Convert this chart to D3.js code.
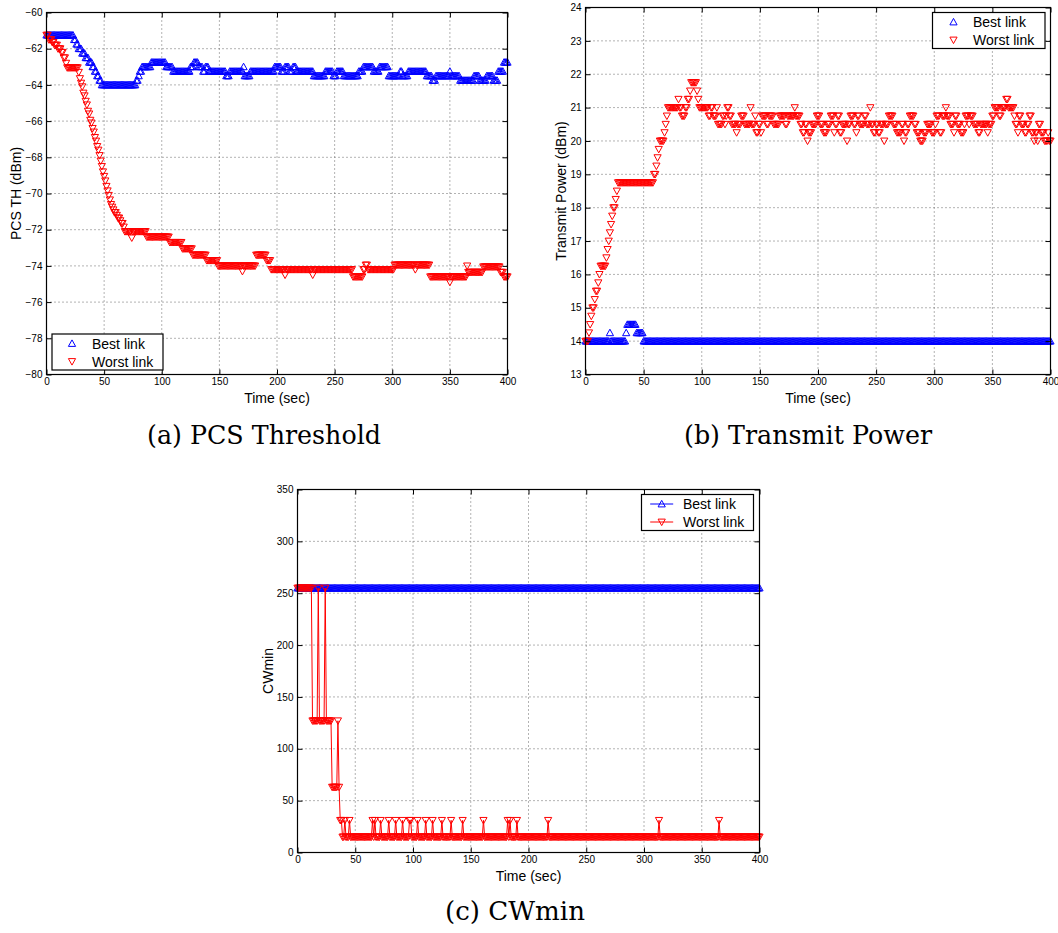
<!DOCTYPE html>
<html>
<head>
<meta charset="utf-8">
<script src="https://cdn.jsdelivr.net/npm/d3@7"></script>
<style>
  html, body { margin: 0; padding: 0; background: #fff; }
  svg { display: block; }
  .tick text { font-family: "Liberation Sans", Arial, sans-serif; font-size: 10px; fill: #000; }
  .axis-title { font-family: "Liberation Sans", Arial, sans-serif; font-size: 14px; fill: #000; }
  .legend-text { font-family: "Liberation Sans", Arial, sans-serif; font-size: 14px; fill: #000; }
  .caption { font-family: "DejaVu Serif", "Liberation Serif", serif; font-size: 26px; fill: #000; }
  .grid line { stroke: #666; stroke-width: 1; stroke-dasharray: 1 3; }
</style>
</head>
<body>
<svg id="fig" width="1058" height="933"></svg>
<script>
// ---------- data ----------
const timeTicks = [0, 50, 100, 150, 200, 250, 300, 350, 400];
const pcsTicks = [-80, -78, -76, -74, -72, -70, -68, -66, -64, -62, -60];
const powerTicks = [13, 14, 15, 16, 17, 18, 19, 20, 21, 22, 23, 24];
const cwTicks = [0, 50, 100, 150, 200, 250, 300, 350];
const seriesNames = ["Best link", "Worst link"];
const captions = ["(a) PCS Threshold", "(b) Transmit Power", "(c) CWmin"];

// Each series is a list of [second, value] change points; a value holds until the next entry.
const pcsBest = [[0,-61.25],[24,-61.5],[26,-61.75],[28,-62],[31,-62.25],[34,-62.5],[37,-62.75],[40,-63],[42,-63.25],[44,-63.5],[46,-63.75],[48,-64],[78,-63.75],[80,-63.5],[81,-63.25],[83,-63],[91,-62.75],[104,-63],[110,-63.25],[125,-63],[128,-62.75],[132,-63],[136,-63.25],[138,-63],[141,-63.25],[156,-63.5],[159,-63.25],[171,-63],[172,-63.5],[177,-63.25],[198,-63],[204,-63.25],[207,-63],[211,-63.25],[214,-63],[217,-63.25],[232,-63.5],[242,-63.25],[249,-63.5],[252,-63.25],[258,-63.5],[271,-63.25],[275,-63],[284,-63.25],[289,-63],[297,-63.5],[307,-63.25],[309,-63.5],[314,-63.25],[330,-63.5],[335,-63.75],[338,-63.5],[350,-63.25],[351,-63.5],[359,-63.75],[371,-63.5],[376,-63.75],[382,-63.5],[388,-63.75],[392,-63.25],[397,-62.75]];
const pcsWorst = [[0,-61.25],[2,-61.5],[5,-61.65],[7,-61.8],[10,-62],[13,-62.2],[15,-62.5],[17,-62.8],[18,-63.05],[28,-63.3],[29,-63.65],[30,-63.9],[31,-64.1],[32,-64.45],[33,-64.6],[34,-64.9],[35,-65.1],[36,-65.45],[37,-65.6],[38,-65.95],[39,-66.1],[40,-66.4],[41,-66.6],[42,-66.9],[43,-67.1],[44,-67.4],[45,-67.6],[46,-67.9],[47,-68.2],[48,-68.5],[49,-68.8],[50,-69.05],[51,-69.3],[52,-69.6],[53,-69.85],[54,-70.1],[55,-70.35],[56,-70.6],[57,-70.75],[58,-70.9],[59,-71.05],[61,-71.2],[62,-71.35],[64,-71.5],[65,-71.65],[67,-71.85],[68,-72.1],[74,-72.45],[75,-72.1],[87,-72.4],[107,-72.7],[118,-73.05],[127,-73.4],[139,-73.7],[149,-74],[170,-74.3],[171,-74],[182,-73.4],[191,-73.7],[195,-74.2],[207,-74.5],[208,-74.2],[231,-74.5],[232,-74.2],[266,-74.6],[275,-74.2],[277,-73.95],[279,-74.2],[302,-73.95],[320,-74.2],[321,-73.95],[333,-74.6],[350,-74.9],[351,-74.6],[365,-74],[366,-74.35],[379,-74.05],[394,-74.35],[397,-74.6]];

const powerBest = [[0,14],[21,14.25],[22,14],[35,14.25],[36,14.5],[44,14.25],[50,14]];
const powerWorst = [[0,14],[3,14.25],[4,14.5],[5,14.75],[6,15],[8,15.25],[9,15.5],[11,15.75],[12,16],[13,16.25],[18,16.5],[19,16.75],[20,17],[21,17.25],[22,17.5],[23,17.75],[24,18],[26,18.25],[27,18.5],[28,18.75],[59,19],[61,19.25],[62,19.5],[63,19.75],[64,20],[68,20.25],[69,20.5],[70,20.75],[71,21],[80,21.25],[81,21],[83,20.75],[86,21],[88,21.25],[90,21.5],[91,21.75],[96,21.5],[97,21.25],[98,21],[106,20.75],[108,21],[110,20.75],[113,21],[114,20.5],[118,20.75],[120,20.5],[121,20.75],[122,21],[124,20.75],[126,20.5],[130,20.25],[131,20.5],[134,20.75],[137,20.5],[142,21],[143,20.5],[146,20.75],[147,20.25],[149,20.5],[151,20.25],[152,20.75],[156,20.5],[158,20.75],[162,20.5],[167,20.75],[172,20.5],[174,20.75],[180,21],[181,20.75],[185,20.5],[187,20.25],[189,20.5],[191,20],[192,20.25],[195,20.5],[199,20.75],[202,20.5],[205,20.25],[208,20.5],[211,20.75],[214,20.25],[215,20.5],[217,20.75],[219,20.25],[221,20.5],[225,20],[226,20.5],[228,20.75],[231,20.5],[233,20.25],[234,20.75],[236,20.5],[240,20.75],[242,20.5],[245,21],[246,20.5],[248,20.25],[250,20.5],[252,20.25],[254,20.5],[257,20],[258,20.5],[261,20.75],[265,20.5],[268,20.25],[272,20.5],[274,20],[275,20.25],[277,20.5],[279,20.75],[283,20.5],[285,20.25],[288,20],[291,20.25],[294,20.5],[298,20.25],[301,20.5],[302,20.75],[305,20.25],[307,20.75],[310,21],[311,20.75],[314,20.5],[317,20.25],[318,20.75],[320,20.5],[323,20.25],[326,20.5],[327,20.75],[330,20.5],[331,20.75],[334,20.5],[338,20.25],[340,20.5],[346,20.25],[347,20.5],[350,20.75],[352,21],[356,20.75],[358,21],[362,21.25],[364,21],[369,20.75],[370,20.5],[372,20.25],[373,20.75],[375,20.5],[378,20.25],[380,20.5],[382,20.75],[384,20.25],[386,20],[387,20.25],[389,20],[390,20.5],[392,20.25],[395,20],[398,20.25],[399,20]];

const cwBest = [[0,255]];
const cwWorst = [[0,255],[13,127],[18,255],[19,127],[24,255],[25,127],[30,63],[35,127],[36,63],[37,31],[39,15],[41,31],[42,15],[45,31],[46,15],[65,31],[66,15],[67,31],[68,15],[72,31],[73,15],[79,31],[80,15],[85,31],[86,15],[91,31],[92,15],[97,31],[99,15],[104,31],[105,15],[111,31],[112,15],[117,31],[118,15],[125,31],[126,15],[133,31],[134,15],[143,31],[144,15],[161,31],[162,15],[182,31],[183,15],[184,31],[185,15],[190,31],[191,15],[217,31],[218,15],[313,31],[314,15],[365,31],[366,15]];

// one sample per second over the run
const sampleTimes = d3.range(0, 401);
function holdSteps(steps) {
  let i = 0;
  return sampleTimes.map(t => {
    while (i + 1 < steps.length && steps[i + 1][0] <= t) i++;
    return { t, v: steps[i][1] };
  });
}

// ---------- drawing ----------
const svg = d3.select("#fig");
svg.append("rect").attr("width", 1058).attr("height", 933).attr("fill", "#fff");

const TRI_UP = "M0,-3.6L3.6,2.9L-3.6,2.9Z";
const TRI_DOWN = "M0,3.6L3.6,-2.9L-3.6,-2.9Z";
const BLUE = "#0000ff", RED = "#ff0000";

function drawPanel(cfg) {
  const g = svg.append("g");
  const x = d3.scaleLinear().domain([0, 400]).range([cfg.left, cfg.right]);
  const y = d3.scaleLinear().domain([cfg.yTicks[0], cfg.yTicks[cfg.yTicks.length - 1]]).range([cfg.bottom, cfg.top]);

  // dotted grid at the interior ticks
  const grid = g.append("g").attr("class", "grid");
  grid.selectAll("line.vx").data(timeTicks.slice(1, -1)).join("line").attr("class", "vx")
    .attr("x1", d => x(d)).attr("x2", d => x(d)).attr("y1", cfg.top).attr("y2", cfg.bottom);
  grid.selectAll("line.hy").data(cfg.yTicks.slice(1, -1)).join("line").attr("class", "hy")
    .attr("x1", cfg.left).attr("x2", cfg.right).attr("y1", d => y(d)).attr("y2", d => y(d));

  // series (best first, worst on top)
  cfg.series.forEach((s, k) => {
    const pts = holdSteps(s.steps);
    const color = k === 0 ? BLUE : RED;
    const shape = k === 0 ? TRI_UP : TRI_DOWN;
    if (cfg.withLines) {
      g.append("path").datum(pts)
        .attr("d", d3.line().x(d => x(d.t)).y(d => y(d.v)))
        .attr("fill", "none").attr("stroke", color).attr("stroke-width", 1);
    }
    g.append("g").selectAll("path").data(pts).join("path")
      .attr("transform", d => `translate(${x(d.t)},${y(d.v)})`)
      .attr("d", shape)
      .attr("fill", "none").attr("stroke", color).attr("stroke-width", 1);
  });

  // axes: labelled bottom/left, mirrored ticks on top/right, all pointing inward
  const fmt = d3.format("d");
  const bottom = g.append("g").attr("transform", `translate(0,${cfg.bottom})`)
    .call(d3.axisBottom(x).tickValues(timeTicks).tickFormat(fmt).tickSizeInner(-5).tickSizeOuter(0).tickPadding(3.5));
  const left = g.append("g").attr("transform", `translate(${cfg.left},0)`)
    .call(d3.axisLeft(y).tickValues(cfg.yTicks).tickFormat(fmt).tickSizeInner(-5).tickSizeOuter(0).tickPadding(4));
  const top = g.append("g").attr("transform", `translate(0,${cfg.top})`)
    .call(d3.axisTop(x).tickValues(timeTicks).tickFormat("").tickSizeInner(-5).tickSizeOuter(0));
  const right = g.append("g").attr("transform", `translate(${cfg.right},0)`)
    .call(d3.axisRight(y).tickValues(cfg.yTicks).tickFormat("").tickSizeInner(-5).tickSizeOuter(0));
  [bottom, left, top, right].forEach(a => {
    a.attr("font-family", null).attr("font-size", null);
    a.select(".domain").remove();
    a.selectAll(".tick line").attr("stroke", "#000");
  });

  // frame
  g.append("rect").attr("x", cfg.left).attr("y", cfg.top)
    .attr("width", cfg.right - cfg.left).attr("height", cfg.bottom - cfg.top)
    .attr("fill", "none").attr("stroke", "#000").attr("stroke-width", 1.2);

  // axis titles
  g.append("text").attr("class", "axis-title").attr("text-anchor", "middle")
    .attr("x", (cfg.left + cfg.right) / 2).attr("y", cfg.bottom + 28.5).text("Time (sec)");
  g.append("text").attr("class", "axis-title").attr("text-anchor", "middle")
    .attr("transform", `translate(${cfg.yTitleX},${(cfg.top + cfg.bottom) / 2}) rotate(-90)`)
    .text(cfg.yTitle);

  // legend
  const L = cfg.legend;
  const lg = g.append("g");
  lg.append("rect").attr("x", L.x).attr("y", L.y).attr("width", L.w).attr("height", L.h)
    .attr("fill", "#fff").attr("stroke", "#000").attr("stroke-width", 1.2);
  seriesNames.forEach((name, k) => {
    const ry = L.y + 9.5 + k * 18;
    const color = k === 0 ? BLUE : RED;
    if (cfg.withLines) {
      lg.append("line").attr("x1", L.markX - 11.5).attr("x2", L.markX + 11.5)
        .attr("y1", ry).attr("y2", ry).attr("stroke", color).attr("stroke-width", 1);
    }
    lg.append("path").attr("transform", `translate(${L.markX},${ry})`)
      .attr("d", k === 0 ? TRI_UP : TRI_DOWN)
      .attr("fill", "none").attr("stroke", color).attr("stroke-width", 1);
    lg.append("text").attr("class", "legend-text").attr("x", L.textX).attr("y", ry + 5).text(name);
  });

  // caption under the panel
  svg.append("text").attr("class", "caption").attr("text-anchor", "middle")
    .attr("x", cfg.captionX).attr("y", cfg.captionY)
    .attr("textLength", cfg.captionWidth).attr("lengthAdjust", "spacingAndGlyphs")
    .text(cfg.caption);
}

drawPanel({
  left: 46.5, right: 507.5, top: 12.5, bottom: 374.5,
  yTicks: pcsTicks, yTitle: "PCS TH (dBm)", yTitleX: 21,
  series: [{ steps: pcsBest }, { steps: pcsWorst }],
  withLines: false,
  legend: { x: 52, y: 334, w: 111, h: 36, markX: 72, textX: 92 },
  caption: captions[0], captionX: 264, captionY: 444, captionWidth: 234
});

drawPanel({
  left: 585.5, right: 1050.5, top: 7.5, bottom: 374.5,
  yTicks: powerTicks, yTitle: "Transmit Power (dBm)", yTitleX: 566,
  series: [{ steps: powerBest }, { steps: powerWorst }],
  withLines: false,
  legend: { x: 932.5, y: 12.5, w: 112.5, h: 36, markX: 953.5, textX: 973 },
  caption: captions[1], captionX: 808, captionY: 444, captionWidth: 248
});

drawPanel({
  left: 297.5, right: 759.5, top: 489.5, bottom: 852.5,
  yTicks: cwTicks, yTitle: "CWmin", yTitleX: 273,
  series: [{ steps: cwBest }, { steps: cwWorst }],
  withLines: true,
  legend: { x: 641.5, y: 494.5, w: 112, h: 36, markX: 661.7, textX: 683 },
  caption: captions[2], captionX: 515, captionY: 920, captionWidth: 140
});
</script>
</body>
</html>
